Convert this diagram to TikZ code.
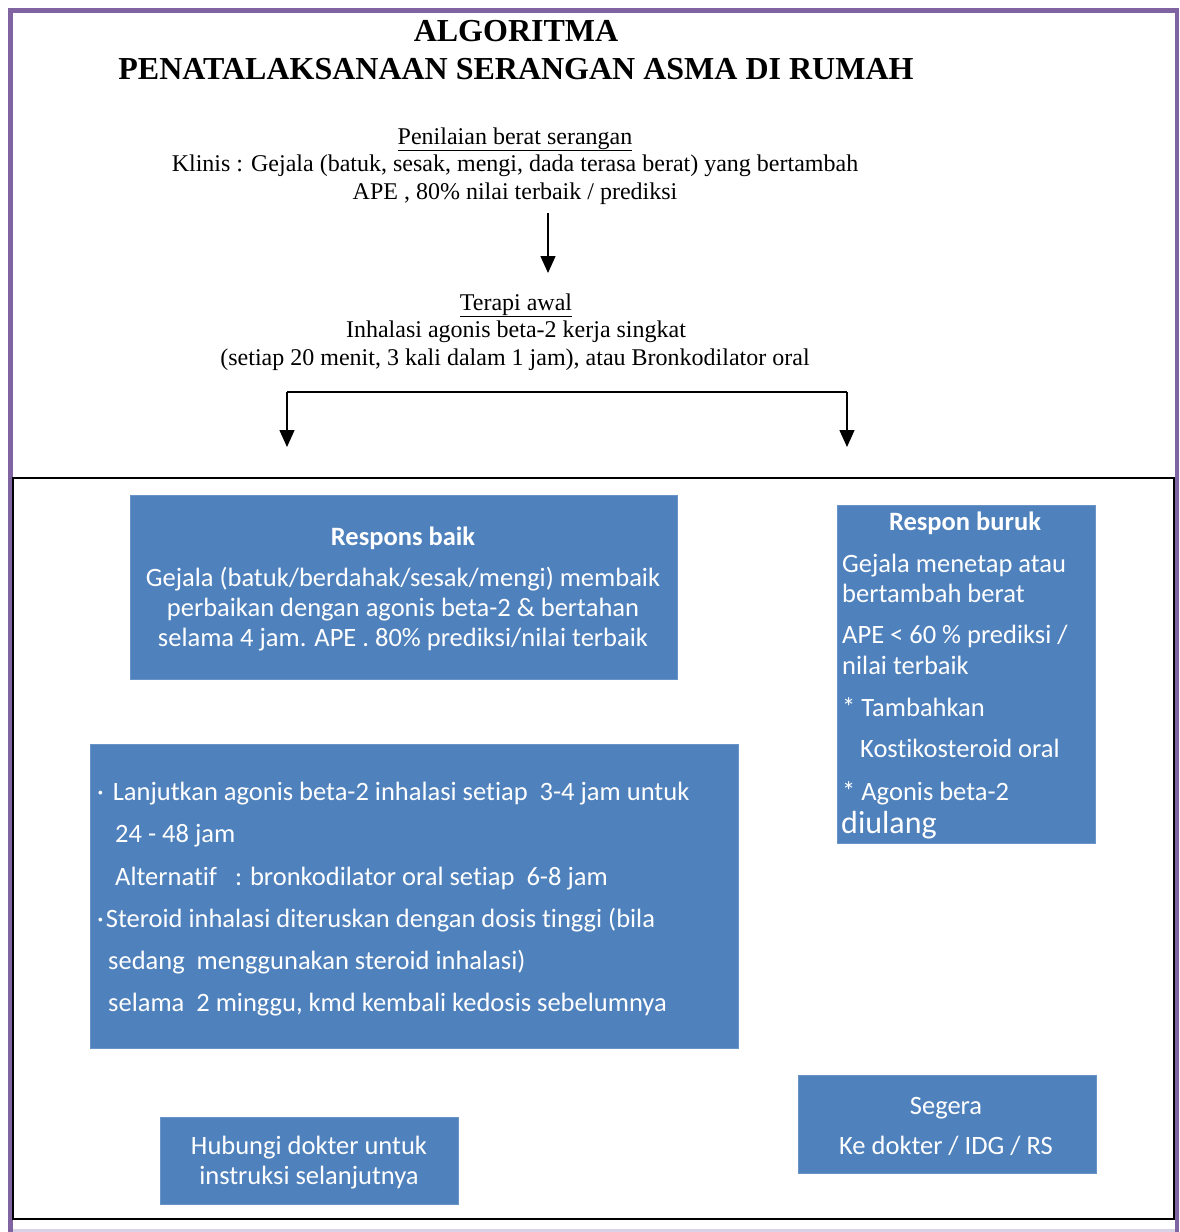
\documentclass[tikz,border=0pt]{standalone}
\usepackage{fontspec}
\setmainfont{Liberation Serif}
\newfontfamily\carl[Ligatures=NoCommon]{Carlito}
\usetikzlibrary{arrows.meta}
\definecolor{framepurple}{HTML}{8064A2}
\definecolor{lavender}{HTML}{D9D2E6}
\definecolor{boxblue}{HTML}{4F81BD}
\tikzset{
  bluebox/.style={draw=boxblue!85!white, line width=0.8pt, fill=boxblue},
  titletext/.style={font=\fontsize{32}{36}\selectfont\bfseries, anchor=base},
  serif/.style={font=\fontsize{24}{27}\selectfont, anchor=base},
  boxtext/.style={font=\carl\fontsize{26.5}{30}\selectfont, text=white, anchor=base, inner sep=0pt},
  boxhead/.style={font=\carl\bfseries\fontsize{26.5}{30}\selectfont, text=white, anchor=base, inner sep=0pt},
  leftline/.style={boxtext, anchor=base west},
  flow/.style={line width=1.4pt, -{Triangle[width=15pt,length=17pt]}},
  plain/.style={line width=1.4pt}
}
\begin{document}
\begin{tikzpicture}[x=1pt,y=-1pt]
\useasboundingbox (0,0) rectangle (1179,1232);
\fill[white] (0,0) rectangle (1179,1232);
% outer frame
\draw[framepurple, line width=5pt] (8,10) -- (1179,10);
\draw[framepurple, line width=5pt] (10.5,8) -- (10.5,1232);
\draw[framepurple, line width=4.5pt] (1177,8) -- (1177,1232);
\draw[lavender, line width=3pt] (13,1230.5) -- (1175,1230.5);
% inner black box
\draw[black, line width=2pt] (12.5,478) rectangle (1174,1219);

% titles
\node[titletext] (t1) at (516,41) {ALGORITMA};
\node[titletext] (t2) at (516,79) {PENATALAKSANAAN SERANGAN ASMA DI RUMAH};

% assessment
\node[serif] (p1) at (515,144) {\underline{Penilaian berat serangan}};
\node[serif] (p2) at (515,171) {Klinis : Gejala (batuk, sesak, mengi, dada terasa berat) yang bertambah};
\node[serif] (p3) at (515,199) {APE , 80\% nilai terbaik / prediksi};

\coordinate (a1s) at (548,213);
\coordinate (a1e) at (548,273);
\draw[flow] (a1s) -- (a1e);

% initial therapy
\node[serif] (q1) at (516,310) {\underline{Terapi awal}};
\node[serif] (q2) at (516,337) {Inhalasi agonis beta-2 kerja singkat};
\node[serif] (q3) at (515,365) {(setiap 20 menit, 3 kali dalam 1 jam), atau Bronkodilator oral};

% branch
\coordinate (bl) at (287,392);
\coordinate (br) at (847,392);
\coordinate (blend) at (287,447);
\coordinate (brend) at (847,447);
\draw[plain] (bl) -- (br);
\draw[flow] (bl) -- (blend);
\draw[flow] (br) -- (brend);

% Respons baik box
\node[bluebox, minimum width=547pt, minimum height=184pt, anchor=north west] (good) at (130,495) {};
\node[boxhead] (g0) at (403,545) {Respons baik};
\node[boxtext] (g1) at (403,586) {Gejala (batuk/berdahak/sesak/mengi) membaik};
\node[boxtext] (g2) at (403,616) {perbaikan dengan agonis beta-2 \& bertahan};
\node[boxtext] (g3) at (403,646) {selama 4 jam. APE . 80\% prediksi/nilai terbaik};

% Respon buruk box
\node[bluebox, minimum width=258pt, minimum height=338pt, anchor=north west] (bad) at (837,505) {};
\node[boxhead] (b0) at (965,530) {Respon buruk};
\node[leftline] (b1) at (842,572) {Gejala menetap atau};
\node[leftline] (b2) at (842,602) {bertambah berat};
\node[leftline] (b3) at (842,643) {APE < 60 \% prediksi /};
\node[leftline] (b4) at (842,674) {nilai terbaik};
\node[leftline] (b5) at (842,716) {* Tambahkan};
\node[leftline] (b6) at (860,757) {Kostikosteroid oral};
\node[leftline] (b7) at (842,800) {* Agonis beta-2};
\node[leftline, font=\carl\fontsize{32}{36}\selectfont] (b8) at (841,833) {diulang};

% big box
\node[bluebox, minimum width=648pt, minimum height=304pt, anchor=north west] (cont) at (90,744) {};
\node[leftline] (c1) at (97,800) {·\hspace{9pt}Lanjutkan agonis beta-2 inhalasi setiap\ \ 3-4 jam untuk};
\node[leftline] (c2) at (115,842) {24 - 48 jam};
\node[leftline] (c3) at (115,885) {Alternatif\ \ \ : bronkodilator oral setiap\ \ 6-8 jam};
\node[leftline] (c4) at (97,927) {·\hspace{2pt}Steroid inhalasi diteruskan dengan dosis tinggi (bila};
\node[leftline] (c5) at (108,969) {sedang\ \ menggunakan steroid inhalasi)};
\node[leftline] (c6) at (108,1011) {selama\ \ 2 minggu, kmd kembali kedosis sebelumnya};

% Hubungi box
\node[bluebox, minimum width=298pt, minimum height=87pt, anchor=north west] (doc) at (160,1117) {};
\node[boxtext] (h1) at (309,1154) {Hubungi dokter untuk};
\node[boxtext] (h2) at (309,1184) {instruksi selanjutnya};

% Segera box
\node[bluebox, minimum width=298pt, minimum height=98pt, anchor=north west] (urg) at (798,1075) {};
\node[boxtext] (s1) at (946,1114) {Segera};
\node[boxtext] (s2) at (946,1154) {Ke dokter / IDG / RS};
\end{tikzpicture}
\end{document}
